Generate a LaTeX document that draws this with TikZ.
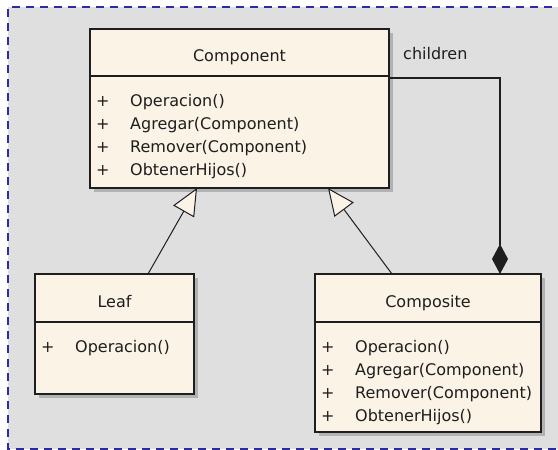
\documentclass[tikz,border=0pt]{standalone}
\usepackage{fontspec}
\setmainfont{DejaVu Sans}
\usetikzlibrary{positioning,shadows,arrows.meta}

\definecolor{classfill}{RGB}{250,243,230}
\definecolor{canvasgrey}{RGB}{223,223,223}
\definecolor{framenavy}{RGB}{44,44,160}
\definecolor{inkgrey}{RGB}{30,30,30}

% one public operation line: "+" then the name
\newcommand{\op}[1]{\makebox[34pt][l]{+}#1}

\begin{document}
\begin{tikzpicture}[
x=1pt, y=-1pt,
font=\fontsize{16}{23}\selectfont,
classbox/.style={rectangle, draw=inkgrey, line width=1.5pt, fill=classfill, inner sep=0pt, outer sep=0pt, drop shadow={shadow xshift=4pt, shadow yshift=-4pt, fill=black, opacity=0.2}},
classhead/.style={classbox, text=inkgrey, text height=18pt, text depth=0pt},
members/.style={inner sep=0pt, align=left, text=inkgrey},
inherit/.style={draw=inkgrey, line width=1pt, -{Triangle[length=27pt, width=24pt, fill=classfill]}},
composition/.style={draw=inkgrey, line width=1.2pt, -{Diamond[length=30pt, width=16pt]}},
frame/.style={draw=framenavy, line width=2.6pt, dash pattern=on 8pt off 6pt},
]
%Background
\path[use as bounding box, fill=white] (0,0) rectangle (558,450);
\fill[canvasgrey] (8,7) rectangle (566,449);
\draw[frame] (566,7) -- (8,7) -- (8,449) -- (566,449);

%Classes
\node[classhead, minimum width=299pt, minimum height=47pt] (component) at (239.5,52.5) {Component};
\node[classbox, minimum width=299pt, minimum height=112pt, below=0pt of component] (componentbody) {};
\node[members, below right=18pt and 6pt of componentbody.north west] (componentops) {\op{Operacion()}\\\op{Agregar(Component)}\\\op{Remover(Component)}\\\op{ObtenerHijos()}};

\node[classhead, minimum width=159pt, minimum height=48pt] (leaf) at (114.5,298) {Leaf};
\node[classbox, minimum width=159pt, minimum height=72pt, below=0pt of leaf] (leafbody) {};
\node[members, below right=18pt and 6pt of leafbody.north west] (leafops) {\op{Operacion()}};

\node[classhead, minimum width=226pt, minimum height=48pt] (composite) at (428,298) {Composite};
\node[classbox, minimum width=226pt, minimum height=110pt, below=0pt of composite] (compositebody) {};
\node[members, below right=18pt and 6pt of compositebody.north west] (compositeops) {\op{Operacion()}\\\op{Agregar(Component)}\\\op{Remover(Component)}\\\op{ObtenerHijos()}};

%Lines
\draw[inherit] ([xshift=33.5pt]leaf.north) -- ([xshift=-42.5pt]componentbody.south);
\draw[inherit] ([xshift=-36pt]composite.north) -- ([xshift=88.5pt]componentbody.south);
\draw[composition] ([yshift=-2pt]componentbody.north east) -| ([xshift=72pt]composite.north);
\node[anchor=west, inner sep=0pt, text=inkgrey] (children) at ([xshift=14pt, yshift=-1.5pt]component.east) {children};

\end{tikzpicture}
\end{document}
